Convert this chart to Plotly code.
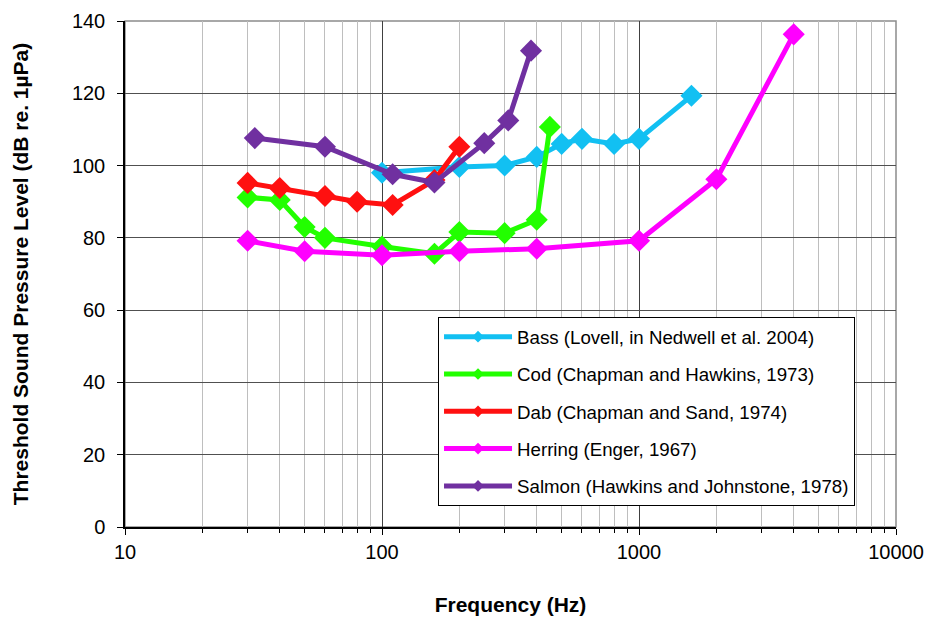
import plotly.graph_objects as go

bass_f = [100, 200, 300, 400, 500, 600, 800, 1000, 1600]
bass_db = [98, 99.6, 100, 102.4, 106, 107.4, 106, 107.4, 119.3]

cod_f = [30, 40, 50, 60, 100, 160, 200, 300, 400, 450]
cod_db = [91.2, 90.5, 83, 80, 77.6, 75.6, 81.6, 81.3, 85, 110.7]

dab_f = [30, 40, 60, 80, 110, 160, 200]
dab_db = [95.2, 93.8, 91.6, 90, 89.1, 96, 105.2]

herring_f = [30, 50, 100, 200, 400, 1000, 2000, 4000]
herring_db = [79.2, 76.3, 75.2, 76.3, 77, 79.2, 96.2, 136.3]

salmon_f = [32, 60, 110, 160, 250, 310, 380]
salmon_db = [107.6, 105.2, 97.6, 95.3, 106.2, 112.5, 131.8]

names = [
    "Bass (Lovell, in Nedwell et al. 2004)",
    "Cod (Chapman and Hawkins, 1973)",
    "Dab (Chapman and Sand, 1974)",
    "Herring (Enger, 1967)",
    "Salmon (Hawkins and Johnstone, 1978)",
]
colors = ["#12C0F2", "#22FF00", "#FF1010", "#FF00FF", "#7030A0"]
series = [(bass_f, bass_db), (cod_f, cod_db), (dab_f, dab_db),
          (herring_f, herring_db), (salmon_f, salmon_db)]

fig = go.Figure()
for i, ((fx, fy), nm, c) in enumerate(zip(series, names, colors)):
    fig.add_trace(go.Scatter(
        x=fx, y=fy, name=nm, mode="lines+markers",
        line=dict(color=c, width=5),
        marker=dict(symbol="diamond", size=17, color=c,
                    line=dict(color=c, width=0)),
        showlegend=False,
    ))
# legend entries (line with small diamond, as in the original key)
for i, (nm, c) in enumerate(zip(names, colors)):
    fig.add_trace(go.Scatter(
        x=[None], y=[None], name=nm, mode="lines+markers",
        line=dict(color=c, width=5),
        marker=dict(symbol="diamond", size=9, color=c),
        legendgroup=f"g{i}", showlegend=True,
    ))

font = "Liberation Sans, Arial, sans-serif"
fig.update_layout(
    width=934, height=619,
    margin=dict(l=125, r=38, t=21, b=92),
    paper_bgcolor="white", plot_bgcolor="white",
    font=dict(family=font, size=20, color="black"),
    showlegend=True,
    legend=dict(
        x=0.406, y=0.415, xanchor="left", yanchor="top",
        bgcolor="white", bordercolor="black", borderwidth=1,
        font=dict(size=18.7, family=font),
        tracegroupgap=10, itemwidth=68,
    ),
    xaxis=dict(
        type="log", range=[1, 4], automargin=False,
        tickvals=[10, 100, 1000, 10000],
        ticktext=["10", "100", "1000", "10000"],
        showgrid=True, gridcolor="#404040", gridwidth=1.2,
        showline=True, linecolor="black", linewidth=1.5, mirror=False,
        ticks="outside", ticklen=6, tickcolor="black",
        minor=dict(dtick="D1", showgrid=True, gridcolor="#BEBEBE",
                   gridwidth=1, ticks="outside", ticklen=4,
                   tickcolor="black"),
        zeroline=False,
        title=dict(text="<b>Frequency (Hz)</b>",
                   font=dict(size=21, family=font), standoff=36),
    ),
    yaxis=dict(
        range=[0, 140], dtick=20, automargin=False,
        showgrid=True, gridcolor="#505050", gridwidth=1.2,
        showline=True, linecolor="black", linewidth=1.5,
        ticks="outside", ticklen=6, tickcolor="black",
        ticklabelstandoff=8,
        zeroline=False,
        title=dict(text="<b>Threshold Sound Pressure Level (dB re. 1µPa)</b>",
                   font=dict(size=21, family=font), standoff=38),
    ),
    shapes=[dict(type="rect", xref="paper", yref="paper",
                 x0=0, x1=1, y0=0, y1=1,
                 line=dict(color="#8C8C8C", width=1.5), layer="below")],
)

fig.write_html("out.html")
